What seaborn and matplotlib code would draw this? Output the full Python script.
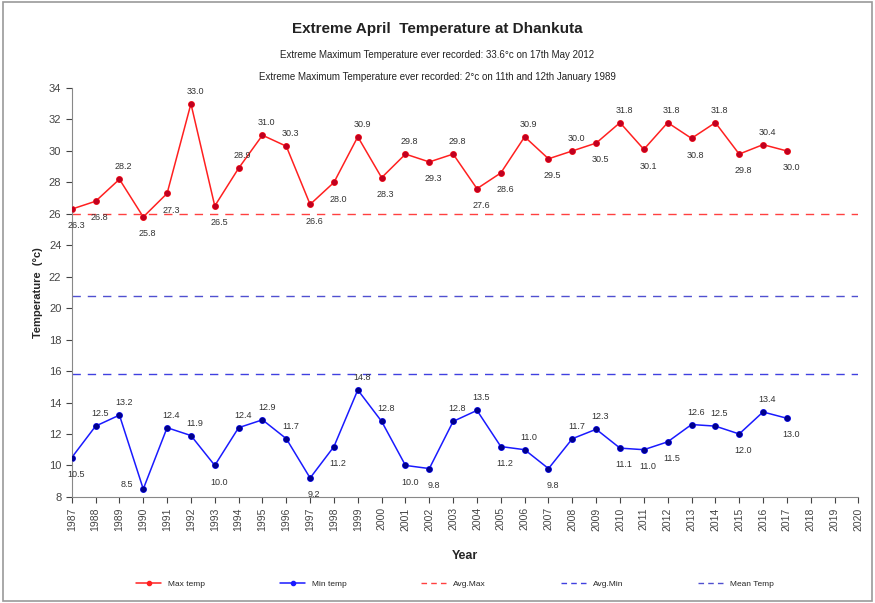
import numpy as np
import pandas as pd
import seaborn as sns
import matplotlib.pyplot as plt
from matplotlib.lines import Line2D

years = list(range(1987, 2018))
max_temp = [26.3, 26.8, 28.2, 25.8, 27.3, 33.0, 26.5, 28.9, 31.0, 30.3, 26.6,
            28.0, 30.9, 28.3, 29.8, 29.3, 29.8, 27.6, 28.6, 30.9, 29.5, 30.0,
            30.5, 31.8, 30.1, 31.8, 30.8, 31.8, 29.8, 30.4, 30.0]
min_temp = [10.5, 12.5, 13.2, 8.5, 12.4, 11.9, 10.0, 12.4, 12.9, 11.7, 9.2,
            11.2, 14.8, 12.8, 10.0, 9.8, 12.8, 13.5, 11.2, 11.0, 9.8, 11.7,
            12.3, 11.1, 11.0, 11.5, 12.6, 12.5, 12.0, 13.4, 13.0]
ref_names = ["Avg.Max", "Avg.Min", "Mean Temp"]
ref_values = [26.0, 15.8, 20.8]
series_names = ["Max temp", "Min temp"]

df = pd.DataFrame({"Year": years * 2,
                   "Temp": max_temp + min_temp,
                   "Series": [series_names[0]] * len(years) + [series_names[1]] * len(years)})

sns.set_style("white")
plt.rcParams['font.family'] = ['Liberation Sans', 'DejaVu Sans']

fig = plt.figure(figsize=(8.75, 6.03), dpi=100)
ax = fig.add_axes([0.082, 0.176, 0.899, 0.678])

sns.lineplot(data=df, x="Year", y="Temp", hue="Series", palette=["#ff2020", "#1a1aff"],
             marker="o", markersize=5, markeredgecolor="none", linewidth=1.1, ax=ax,
             legend=False)
# darker marker centres like the original
for vals, c in [(max_temp, "#c00020"), (min_temp, "#00008b")]:
    ax.scatter(years, vals, s=10, color=c, zorder=4)

ref_colors = ["#ff4040", "#4040e0", "#5050d0"]
x_full = [1987, 2020]
for name, v, c in zip(ref_names, ref_values, ref_colors):
    ax.plot(x_full, [v, v], ls=(0, (6, 5)), color=c, lw=1.0)

# data labels: above peaks, below troughs
def put_labels(vals):
    for i, (x, v) in enumerate(zip(years, vals)):
        prev = vals[i - 1] if i > 0 else v
        nxt = vals[i + 1] if i < len(vals) - 1 else v
        above = v >= (prev + nxt) / 2
        dx, dy = (3, 9) if above else (3, -12)
        if v < 9:
            dx, dy = (-12, 3)
        ax.annotate(f"{v:.1f}", (x, v), xytext=(dx, dy), textcoords="offset points",
                    ha="center", va="center", fontsize=6.5, color="#333333")

put_labels(max_temp)
put_labels(min_temp)

ax.set_xlim(1987, 2020)
ax.set_ylim(8, 34)
ax.set_xticks(range(1987, 2021))
ax.set_xticklabels([str(y) for y in range(1987, 2021)], rotation=90, fontsize=7.5)
ax.set_yticks(range(8, 35, 2))
ax.tick_params(axis="y", labelsize=8, length=4, direction="out", left=True, colors="#444444")
ax.tick_params(axis="x", length=4, direction="out", bottom=True, colors="#444444")
for s in ["top", "right"]:
    ax.spines[s].set_visible(False)
for s in ["left", "bottom"]:
    ax.spines[s].set_color("#888888")
    ax.spines[s].set_linewidth(0.8)

ax.set_xlabel("Year", fontsize=9, fontweight="bold", labelpad=14)
ax.set_ylabel("Temperature  (°c)", fontsize=8, fontweight="bold")

fig.text(0.5, 0.945, "Extreme April  Temperature at Dhankuta", ha="center", fontsize=11,
         fontweight="bold", color="#222222")
fig.text(0.5, 0.903, "Extreme Maximum Temperature ever recorded: 33.6°c on 17th May 2012",
         ha="center", fontsize=7, color="#222222")
fig.text(0.5, 0.868, "Extreme Maximum Temperature ever recorded: 2°c on 11th and 12th January 1989",
         ha="center", fontsize=7, color="#222222")

handles = [Line2D([], [], color="#ff2020", marker="o", markersize=3, lw=1.1),
           Line2D([], [], color="#1a1aff", marker="o", markersize=3, lw=1.1),
           Line2D([], [], color=ref_colors[0], ls=(0, (4, 3)), lw=1.0),
           Line2D([], [], color=ref_colors[1], ls=(0, (4, 3)), lw=1.0),
           Line2D([], [], color=ref_colors[2], ls=(0, (4, 3)), lw=1.0)]
fig.legend(handles, series_names + ref_names, loc="center", bbox_to_anchor=(0.52, 0.032),
           ncol=5, frameon=False, fontsize=6, columnspacing=9, handlelength=3)

border = plt.Rectangle((0.003, 0.003), 0.994, 0.994, transform=fig.transFigure,
                       fill=False, edgecolor="#999999", lw=1.2)
fig.patches.append(border)

fig.savefig("out.png", dpi=100)
